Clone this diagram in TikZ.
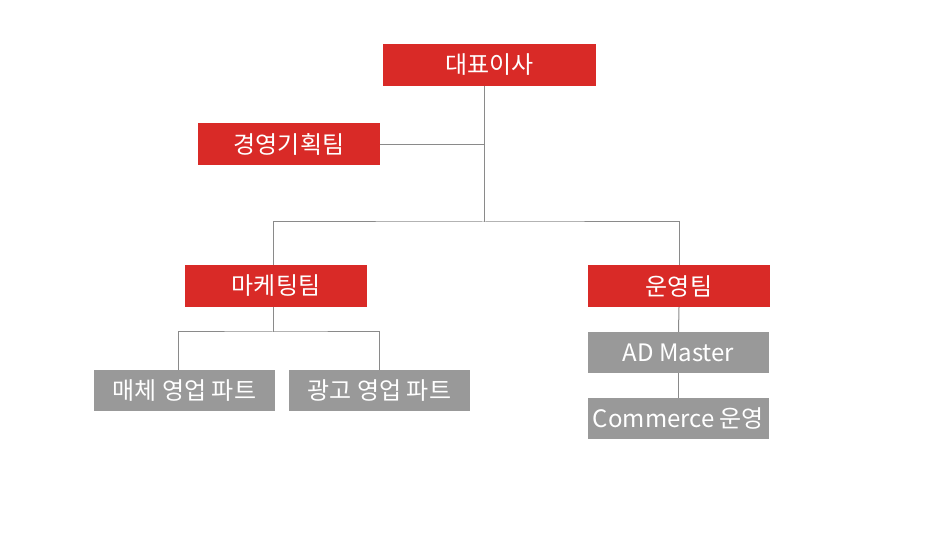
\documentclass[tikz,border=0pt]{standalone}
\usepackage{fontspec}
\usepackage{xcolor}
\usetikzlibrary{positioning}
\newfontfamily\krfont{Noto Sans CJK KR}
\definecolor{boxred}{HTML}{D92A27}
\definecolor{boxgray}{HTML}{999999}
\definecolor{linegray}{HTML}{8A8A8A}

\tikzset{
    teambox/.style={minimum width=182pt, minimum height=42pt, inner sep=0pt,
        text=white, font=\krfont\fontsize{24}{24}\selectfont},
    redbox/.style={teambox, fill=boxred},
    graybox/.style={teambox, fill=boxgray, minimum width=181pt, minimum height=41pt},
    link/.style={draw=linegray, line width=1pt}
}

\begin{document}
\begin{tikzpicture}[x=1pt, y=-1pt, node distance=1pt, on grid]
    \useasboundingbox (0,0) rectangle (940,534);
    \node[redbox, minimum width=213pt] (ceo) at (489.5,65) {대표이사};
    \node[redbox, below left=79.5pt and 200.5pt of ceo] (plan) {경영기획팀};
    \node[redbox] (mkt) at (276,286) {마케팅팀};
    \node[redbox, right=403pt of mkt] (ops) {운영팀};
    \node[graybox, below left=104.5pt and 91.5pt of mkt] (media) {매체 영업 파트};
    \node[graybox, right=195pt of media] (adpart) {광고 영업 파트};
    \node[graybox, below left=66.5pt and 0.5pt of ops] (admaster) {AD Master};
    \node[graybox, below=66pt of admaster] (commerce) {Commerce 운영};

    \coordinate (trunk) at (484,222);
    \coordinate (mktfork) at (273,332);

    \draw[link] (ceo.south -| trunk) -- (trunk);
    \draw[link] (plan.east) -- (plan.east -| trunk);
    \draw[link] (mkt.north -| mktfork) |- (trunk) -| (ops.north);
    \draw[link] (mkt.south -| mktfork) -- (mktfork);
    \draw[link] (media.north) ++(-6.5,0) |- (mktfork) -| (adpart.north);
    \draw[link] (ops.south) -- (admaster.north);
    \draw[link] (admaster.south) -- (commerce.north);
\end{tikzpicture}
\end{document}
